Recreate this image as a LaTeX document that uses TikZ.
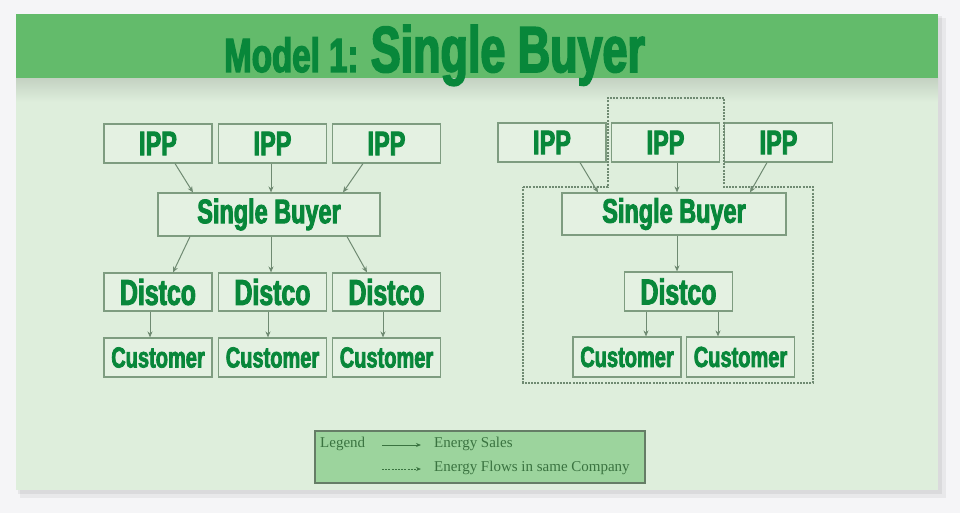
\documentclass[tikz,border=0pt]{standalone}
\usepackage{fontspec}
\usetikzlibrary{calc}
\usetikzlibrary{arrows.meta}
\setmainfont{Liberation Serif}
\newfontfamily\heavyfont{Liberation Sans}[FakeStretch=0.69,FakeBold=2.6]

\definecolor{pagebg}{HTML}{F5F5F7}
\definecolor{panelbg}{HTML}{DEEEDC}
\definecolor{barbg}{HTML}{63BB6B}
\definecolor{titlegreen}{HTML}{08873A}
\definecolor{boxfill}{HTML}{E4F1E2}
\definecolor{boxline}{HTML}{7E9C80}
\definecolor{flowgray}{HTML}{6F8A72}
\definecolor{legendbg}{HTML}{9CD49D}
\definecolor{legendtext}{HTML}{3A7340}

\tikzset{
  unit/.style={draw=boxline, line width=1.1pt, fill=boxfill, text=titlegreen,
    inner sep=0pt, font=\heavyfont\bfseries},
  ipp/.style={unit, minimum width=108pt, minimum height=39pt, font=\heavyfont\bfseries\fontsize{34}{34}\selectfont},
  buyer/.style={unit, minimum width=222pt, minimum height=43pt, font=\heavyfont\bfseries\fontsize{34}{34}\selectfont},
  distco/.style={unit, minimum width=108pt, minimum height=38pt, font=\heavyfont\bfseries\fontsize{36}{36}\selectfont},
  customer/.style={unit, minimum width=108pt, minimum height=39pt, font=\heavyfont\bfseries\fontsize{29}{29}\selectfont},
  sale/.style={draw=flowgray, line width=1pt, -{Stealth[length=6pt,width=5pt]}},
  company/.style={draw=flowgray, line width=1.2pt, dash pattern=on 2pt off 1.2pt},
  legendlabel/.style={text=legendtext, inner sep=0pt, anchor=west, font=\fontsize{15}{15}\selectfont}
}

\begin{document}
\begin{tikzpicture}[x=1pt, y=-1pt]
  \useasboundingbox (0,0) rectangle (960,513);
  \fill[pagebg] (0,0) rectangle (960,513);

  % panel with its soft shadow
  \fill[black, opacity=0.05] (20,18) rectangle (946,498);
  \fill[black, opacity=0.06] (18,16) rectangle (942,494);
  \fill[panelbg] (16,14) rectangle (938,490);
  \shade[top color=panelbg!80!black!60!panelbg, bottom color=panelbg] (16,78) rectangle (938,102);
  \fill[barbg] (16,14) rectangle (938,78);

  \node[anchor=base west, inner sep=0pt, text=titlegreen] (title) at (224,72)
    {\heavyfont\bfseries{\fontsize{48}{48}\selectfont Model 1: }{\fontsize{65}{65}\selectfont Single Buyer}};

  % left: separate companies
  \node[ipp] (ippA) at (158,143.5) {IPP};
  \node[ipp] (ippB) at (272.5,143.5) {IPP};
  \node[ipp] (ippC) at (386.5,143.5) {IPP};
  \node[buyer] (sb) at (269,214.5) {Single Buyer};
  \node[distco] (dA) at (158,292) {Distco};
  \node[distco] (dB) at (272.5,292) {Distco};
  \node[distco] (dC) at (386.5,292) {Distco};
  \node[customer] (cA) at (158,357.5) {Customer};
  \node[customer] (cB) at (272.5,357.5) {Customer};
  \node[customer] (cC) at (386.5,357.5) {Customer};

  \draw[sale] ([xshift=17pt]ippA.south) -- ([xshift=-76pt]sb.north);
  \draw[sale] ([xshift=-1.5pt]ippB.south) -- ([xshift=2pt]sb.north);
  \draw[sale] ([xshift=-23.5pt]ippC.south) -- ([xshift=74pt]sb.north);
  \draw[sale] ([xshift=-79pt]sb.south) -- ([xshift=15pt]dA.north);
  \draw[sale] ([xshift=2pt]sb.south) -- ([xshift=-1.5pt]dB.north);
  \draw[sale] ([xshift=78pt]sb.south) -- ([xshift=-19.5pt]dC.north);
  \draw[sale] ([xshift=-8pt]dA.south) -- ([xshift=-8pt]cA.north);
  \draw[sale] ([xshift=-4.5pt]dB.south) -- ([xshift=-4.5pt]cB.north);
  \draw[sale] ([xshift=-3.5pt]dC.south) -- ([xshift=-3.5pt]cC.north);

  % right: buyer and distco in one company
  \node[ipp] (rippA) at (552,142.5) {IPP};
  \node[ipp] (rippB) at (665.5,142.5) {IPP};
  \node[ipp] (rippC) at (778.5,142.5) {IPP};
  \node[buyer, minimum width=224pt, minimum height=42pt] (rsb) at (674,214) {Single Buyer};
  \node[distco, minimum height=39pt] (rd) at (678.5,291.5) {Distco};
  \node[customer, minimum height=40pt] (rcA) at (627,357) {Customer};
  \node[customer, minimum height=40pt] (rcB) at (740.5,357) {Customer};

  \draw[company] (523,187) -- (608,187) -- (608,98) -- (724,98) -- (724,187)
    -- (813,187) -- (813,383) -- (523,383) -- cycle;

  \draw[sale] ([xshift=28pt]rippA.south) -- ([xshift=-76pt]rsb.north);
  \draw[sale] ([xshift=11.5pt]rippB.south) -- ([xshift=3pt]rsb.north);
  \draw[sale] ([xshift=-11.5pt]rippC.south) -- ([xshift=76pt]rsb.north);
  \draw[sale] ([xshift=3pt]rsb.south) -- ([xshift=-1.5pt]rd.north);
  \draw[sale] ([xshift=-32.5pt]rd.south) -- ([xshift=19pt]rcA.north);
  \draw[sale] ([xshift=39.5pt]rd.south) -- ([xshift=-22.5pt]rcB.north);

  % legend
  \node[draw=boxline!80!black, line width=1.2pt, fill=legendbg, minimum width=330pt,
    minimum height=52pt, inner sep=0pt] (legend) at (480,457) {};
  \node[legendlabel] (lgd) at (320,444) {Legend};
  \coordinate (saleA) at (382,445);
  \coordinate (saleB) at (421,445);
  \coordinate (flowA) at (382,469);
  \coordinate (flowB) at (421,469);
  \draw[sale, draw=legendtext, -{Stealth[length=5pt,width=4pt]}] (saleA) -- (saleB);
  \draw[company, line width=1pt, draw=legendtext, -{Stealth[length=5pt,width=4pt]}] (flowA) -- (flowB);
  \node[legendlabel] (lsale) at (434,444) {Energy Sales};
  \node[legendlabel] (lflow) at (434,468) {Energy Flows in same Company};
\end{tikzpicture}
\end{document}
